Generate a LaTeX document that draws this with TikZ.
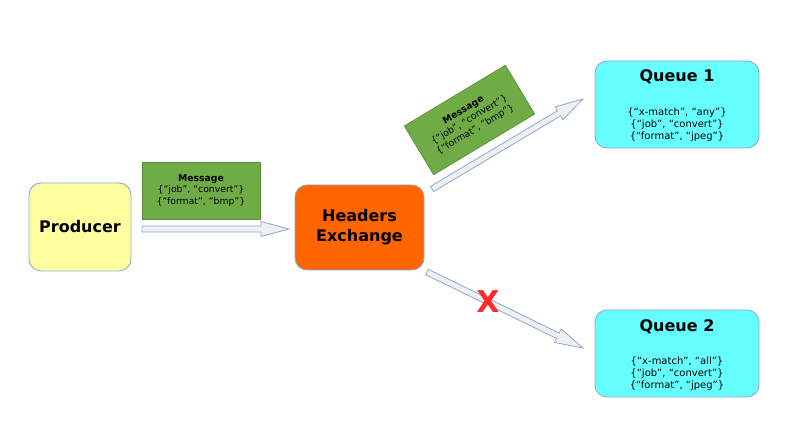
\documentclass[tikz,border=0pt]{standalone}
\usepackage{fontspec}
\setmainfont{DejaVu Sans}
\usetikzlibrary{calc}
\definecolor{boxline}{HTML}{8FA8CC}
\definecolor{prodfill}{HTML}{FFFFA0}
\definecolor{exfill}{HTML}{FF6600}
\definecolor{qfill}{HTML}{66FFFF}
\definecolor{msgfill}{HTML}{6FAC46}
\definecolor{msgline}{HTML}{5A8A38}
\definecolor{arrfill}{HTML}{EEF0F4}
\definecolor{arrline}{HTML}{8EA9C8}
\definecolor{xred}{HTML}{FF2A2A}
\tikzset{
  rbox/.style={draw=boxline, line width=0.9pt, rounded corners=12pt, inner sep=0pt},
  msgbox/.style={draw=msgline, line width=0.6pt, fill=msgfill, minimum width=118pt, minimum height=57pt, inner sep=0pt, align=center, font=\fontsize{9.3}{11.5}\selectfont},
  blockarr/.style={draw=arrline, fill=arrfill, line width=0.8pt, line join=miter},
  qtext/.style={align=center, font=\fontsize{10}{12}\selectfont, inner sep=0pt},
  bigtext/.style={font=\fontsize{16}{20}\selectfont\bfseries, align=center, inner sep=0pt}
}
\newcommand{\blockarrow}[2]{%
  \path let \p1=($(#2)-(#1)$), \n1={atan2(\y1,\x1)}, \n2={veclen(\x1,\y1)} in
    \pgfextra{\xdef\baang{\n1}\xdef\balen{\n2}};
  \begin{scope}[shift={(#1)}, rotate=\baang]
    \draw[blockarr] (0pt,-3pt) -- (\balen-28pt,-3pt) -- (\balen-28pt,-7.5pt)
      -- (\balen,0pt) -- (\balen-28pt,7.5pt) -- (\balen-28pt,3pt) -- (0pt,3pt) -- cycle;
  \end{scope}}
\begin{document}
\begin{tikzpicture}[x=1pt,y=-1pt]
\useasboundingbox (0,0) rectangle (800,435);
% boxes
\node[rbox, fill=prodfill, minimum width=102pt, minimum height=88pt] (prod) at (80,227) {};
\node[bigtext] at (prod.center) {Producer};
\node[rbox, fill=exfill, minimum width=129pt, minimum height=85pt] (ex) at (359.5,227.5) {};
\node[bigtext] at (ex.center) {Headers\\Exchange};
\node[rbox, fill=qfill, minimum width=164pt, minimum height=87pt] (q1) at (677,104.5) {};
\node[bigtext] (q1t) at (677,77) {Queue 1};
\node[qtext] (q1b) at (677,125) {\{“x-match”, “any”\}\\\{“job”, “convert”\}\\\{“format”, “jpeg”\}};
\node[rbox, fill=qfill, minimum width=164pt, minimum height=87pt] (q2) at (677,353.5) {};
\node[bigtext] (q2t) at (677,327) {Queue 2};
\node[qtext] (q2b) at (677,374) {\{“x-match”, “all”\}\\\{“job”, “convert”\}\\\{“format”, “jpeg”\}};
% messages
\node[msgbox] (m1) at (201,190.5) {{\bfseries Message}\\\{“job”, “convert”\}\\\{“format”, “bmp”\}};
\node[msgbox, rotate=31] (m2) at (469.5,120) {{\bfseries Message}\\\{“job”, “convert”\}\\\{“format”, “bmp”\}};
% arrows
\coordinate (a1s) at (142,229);
\coordinate (a1e) at (289,229);
\coordinate (a2s) at (432,189);
\coordinate (a2e) at (583,99);
\coordinate (a3s) at (427,272);
\coordinate (a3e) at (583,348);
\blockarrow{a1s}{a1e}
\blockarrow{a2s}{a2e}
\blockarrow{a3s}{a3e}
\node[text=xred, font=\fontsize{30}{32}\selectfont\bfseries, inner sep=0pt] (xmark) at (488,302) {X};
\end{tikzpicture}
\end{document}
